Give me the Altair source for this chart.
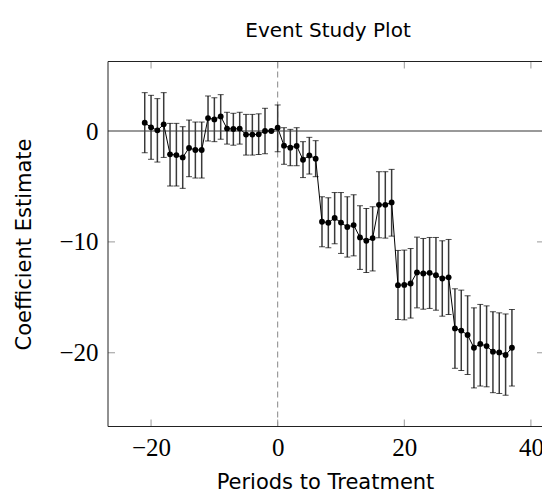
import altair as alt
import pandas as pd

# ---- data ----
periods = list(range(-21, 38))
coef = [0.75, 0.33, 0.06, 0.60, -2.10, -2.17, -2.38, -1.53, -1.71, -1.71,
        1.17, 1.05, 1.32, 0.22, 0.18, 0.22, -0.32, -0.32, -0.30, 0.00,
        0.00,
        0.30, -1.32, -1.50, -1.35, -2.59, -2.20, -2.50, -8.18, -8.27, -7.84,
        -8.26, -8.66, -8.48, -9.60, -9.90, -9.66, -6.66, -6.66, -6.44, -13.90,
        -13.88, -13.75, -12.75, -12.85, -12.79, -13.00, -13.30, -13.20, -17.80, -18.00,
        -18.40, -19.55, -19.20, -19.40, -19.90, -19.97, -20.20, -19.55]
upper = [3.46, 3.22, 2.92, 3.46, 0.69, 0.69, 0.39, 0.99, 0.81, 0.81,
         3.16, 3.00, 3.28, 1.69, 1.60, 1.69, 1.50, 1.50, 1.55, 2.05,
         0.00,
         2.35, 0.30, 0.15, 0.30, -0.96, -0.57, -0.87, -5.93, -6.02, -5.55,
         -5.55, -5.93, -5.75, -6.74, -6.98, -6.83, -3.67, -3.67, -3.46, -10.77,
         -10.74, -10.60, -9.57, -9.69, -9.60, -9.60, -9.90, -9.78, -14.23, -14.35,
         -14.86, -15.95, -15.64, -15.77, -16.30, -16.40, -16.50, -16.10]
lower = [-1.96, -2.55, -2.80, -2.38, -4.96, -4.96, -5.17, -4.12, -4.24, -4.24,
         -0.90, -0.96, -0.74, -1.18, -1.28, -1.18, -2.17, -2.17, -2.12, -2.05,
         0.00,
         -1.87, -3.00, -3.13, -3.13, -4.20, -3.88, -4.12, -10.44, -10.53, -10.17,
         -11.04, -11.37, -11.26, -12.48, -12.77, -12.62, -9.63, -9.66, -9.48, -17.00,
         -17.03, -16.87, -15.95, -16.07, -16.00, -16.16, -16.70, -16.55, -21.40, -21.60,
         -21.96, -23.17, -23.00, -23.07, -23.60, -23.67, -23.83, -23.00]
x_ticks = [-20, 0, 20, 40]
y_ticks = [0, -10, -20]
x_domain = [-26.8, 41.75]
y_domain = [-26.65, 6.27]

df = pd.DataFrame({"period": periods, "coef": coef, "upper": upper, "lower": lower})
xt = pd.DataFrame({"period": x_ticks})
yt = pd.DataFrame({"coef": y_ticks})
zero = pd.DataFrame({"period": [0], "coef": [0]})
one = pd.DataFrame({"k": [0]})

W, H = 434, 365
TICK = 7
SANS = "DejaVu Sans"
SERIF = "Liberation Serif"

xs = alt.Scale(domain=x_domain, nice=False, zero=False)
ys = alt.Scale(domain=y_domain, nice=False, zero=False)

x_axis = alt.Axis(values=x_ticks, format="d", title="Periods to Treatment",
                  titleY=62, titleBaseline="alphabetic",
                  labelBaseline="alphabetic", labelPadding=29)
y_axis = alt.Axis(values=y_ticks, format="d", title="Coefficient Estimate",
                  titleX=-84, titleBaseline="middle", titleAngle=-90,
                  labelPadding=10)


def X(field):
    return alt.X(field, type="quantitative", scale=xs, axis=x_axis)


def Y(field):
    return alt.Y(field, type="quantitative", scale=ys, axis=y_axis)


base = alt.Chart(df)

line = base.mark_line(color="black", strokeWidth=1).encode(x=X("period"), y=Y("coef"))
bars = base.mark_rule(color="#3a3a3a", strokeWidth=1.5).encode(
    x=X("period"), y=Y("lower"), y2="upper")
cap_hi = base.mark_tick(orient="horizontal", color="black", size=6, thickness=1).encode(
    x=X("period"), y=Y("upper"))
cap_lo = base.mark_tick(orient="horizontal", color="black", size=6, thickness=1).encode(
    x=X("period"), y=Y("lower"))
points = base.mark_circle(color="black", size=34, opacity=1).encode(
    x=X("period"), y=Y("coef"))

zero_h = alt.Chart(zero).mark_rule(color="#999999", strokeWidth=2).encode(y=Y("coef"))
zero_v = alt.Chart(zero).mark_rule(color="#888888", strokeWidth=1, strokeDash=[6, 4]).encode(
    x=X("period"))

tick_top = alt.Chart(xt).mark_rule(color="#999999", strokeWidth=1).encode(
    x=X("period"), y=alt.value(0), y2=alt.value(TICK))
tick_bot = alt.Chart(xt).mark_rule(color="#999999", strokeWidth=1).encode(
    x=X("period"), y=alt.value(H), y2=alt.value(H - TICK))
tick_left = alt.Chart(yt).mark_rule(color="#999999", strokeWidth=1).encode(
    y=Y("coef"), x=alt.value(0), x2=alt.value(TICK))
tick_right = alt.Chart(yt).mark_rule(color="#999999", strokeWidth=1).encode(
    y=Y("coef"), x=alt.value(W - 5), x2=alt.value(W))

frame_left = alt.Chart(one).mark_rule(color="#222222", strokeWidth=1).encode(
    x=alt.value(0), y=alt.value(0), y2=alt.value(H))
frame_top = alt.Chart(one).mark_rule(color="#222222", strokeWidth=1).encode(
    x=alt.value(0), x2=alt.value(W), y=alt.value(0))
frame_bot = alt.Chart(one).mark_rule(color="#222222", strokeWidth=1).encode(
    x=alt.value(0), x2=alt.value(W), y=alt.value(H))

chart = alt.layer(
    zero_h, zero_v, tick_top, tick_bot, tick_left, tick_right,
    bars, cap_hi, cap_lo, line, points,
    frame_left, frame_top, frame_bot,
).properties(
    width=W, height=H,
    autosize=alt.AutoSizeParams(type="none"),
    padding={"left": 108, "top": 61.5, "right": 0, "bottom": 68.5},
    title=alt.TitleParams("Event Study Plot", font=SANS, fontSize=20,
                          fontWeight="normal", color="black", anchor="middle",
                          baseline="alphabetic", offset=4, dx=3),
).configure_view(stroke=None).configure_axis(
    grid=False, ticks=False, tickSize=0, domain=False,
    labelFont=SERIF, labelFontSize=25, labelColor="black",
    titleFont=SANS, titleFontSize=21, titleFontWeight="normal", titleColor="black",
)

chart.save("out.html", embed_options={"renderer": "svg", "actions": False})
